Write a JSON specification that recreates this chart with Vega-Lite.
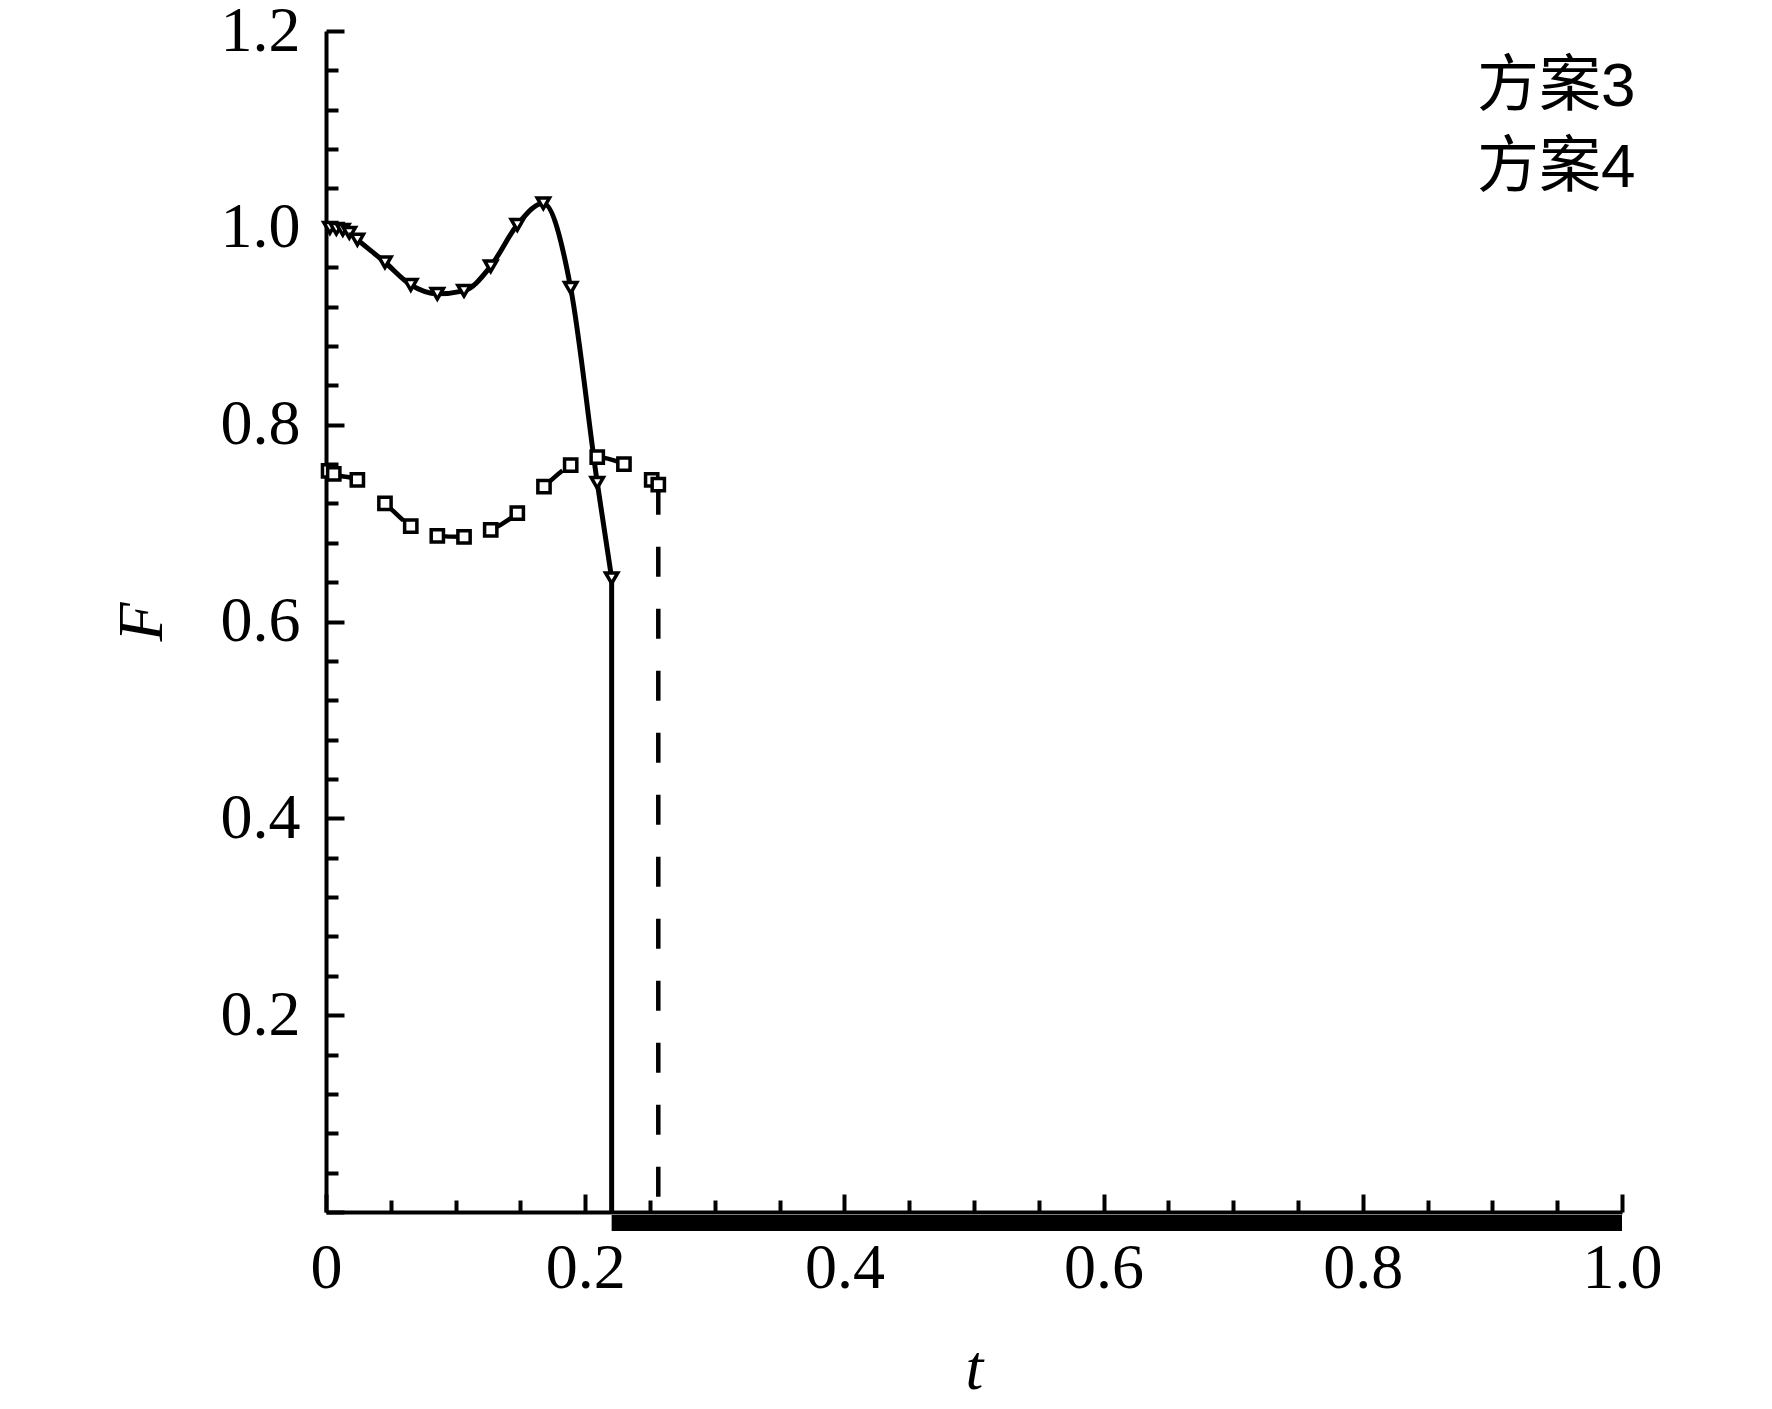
{
  "$schema": "https://vega.github.io/schema/vega-lite/v6.json",
  "autosize": {"type": "none"},
  "padding": {"left": 326, "top": 31, "right": 150, "bottom": 197},
  "width": 1296,
  "height": 1181,
  "background": "white",
  "datasets": {
    "points": [
      {"series": "方案3", "t": 0.003, "F": 1.0},
      {"series": "方案3", "t": 0.008, "F": 0.999},
      {"series": "方案3", "t": 0.013, "F": 0.998},
      {"series": "方案3", "t": 0.018, "F": 0.995},
      {"series": "方案3", "t": 0.0242, "F": 0.988},
      {"series": "方案3", "t": 0.0455, "F": 0.965},
      {"series": "方案3", "t": 0.0654, "F": 0.942},
      {"series": "方案3", "t": 0.0859, "F": 0.933},
      {"series": "方案3", "t": 0.1065, "F": 0.936},
      {"series": "方案3", "t": 0.1271, "F": 0.961},
      {"series": "方案3", "t": 0.1476, "F": 1.003},
      {"series": "方案3", "t": 0.1677, "F": 1.025},
      {"series": "方案3", "t": 0.1888, "F": 0.939},
      {"series": "方案3", "t": 0.2093, "F": 0.741},
      {"series": "方案3", "t": 0.2204, "F": 0.644},
      {"series": "方案4", "t": 0.002, "F": 0.753},
      {"series": "方案4", "t": 0.006, "F": 0.75},
      {"series": "方案4", "t": 0.0242, "F": 0.744},
      {"series": "方案4", "t": 0.0455, "F": 0.72},
      {"series": "方案4", "t": 0.0654, "F": 0.697},
      {"series": "方案4", "t": 0.0859, "F": 0.687},
      {"series": "方案4", "t": 0.1065, "F": 0.686},
      {"series": "方案4", "t": 0.1271, "F": 0.693},
      {"series": "方案4", "t": 0.1476, "F": 0.71},
      {"series": "方案4", "t": 0.1682, "F": 0.737},
      {"series": "方案4", "t": 0.1888, "F": 0.759},
      {"series": "方案4", "t": 0.2093, "F": 0.767},
      {"series": "方案4", "t": 0.2299, "F": 0.76},
      {"series": "方案4", "t": 0.2513, "F": 0.744},
      {"series": "方案4", "t": 0.2564, "F": 0.739}
    ],
    "drops": [
      {"series": "方案3", "part": "drop", "t": 0.2204, "F": 0.644},
      {"series": "方案3", "part": "drop", "t": 0.2204, "F": 0},
      {"series": "方案3", "part": "tail", "t": 0.2204, "F": 0},
      {"series": "方案3", "part": "tail", "t": 1.0, "F": 0},
      {"series": "方案4", "part": "drop", "t": 0.2564, "F": 0.739},
      {"series": "方案4", "part": "drop", "t": 0.2564, "F": 0}
    ]
  },
  "encoding": {
    "x": {
      "field": "t",
      "type": "quantitative",
      "scale": {"domain": [0, 1], "nice": false, "zero": false},
      "axis": {
        "title": "t",
        "values": [0, 0.05, 0.1, 0.15, 0.2, 0.25, 0.3, 0.35, 0.4, 0.45, 0.5, 0.55, 0.6, 0.65, 0.7, 0.75, 0.8, 0.85, 0.9, 0.95, 1.0],
        "labelExpr": "abs(datum.value * 5 - round(datum.value * 5)) < 1e-6 ? (datum.value == 0 ? '0' : format(datum.value, '.1f')) : ''",
        "tickSize": {"condition": {"test": "abs(datum.value * 5 - round(datum.value * 5)) < 1e-6", "value": -18}, "value": -12},
        "labelPadding": 42,
        "titlePadding": 31,
        "labelFlush": false,
        "labelOverlap": false
      }
    },
    "y": {
      "field": "F",
      "type": "quantitative",
      "scale": {"domain": [0, 1.2], "nice": false, "zero": false},
      "axis": {
        "title": "F",
        "values": [0, 0.04, 0.08, 0.12, 0.16, 0.2, 0.24, 0.28, 0.32, 0.36, 0.4, 0.44, 0.48, 0.52, 0.56, 0.6, 0.64, 0.68, 0.72, 0.76, 0.8, 0.84, 0.88, 0.92, 0.96, 1.0, 1.04, 1.08, 1.12, 1.16, 1.2],
        "labelExpr": "abs(datum.value * 5 - round(datum.value * 5)) < 1e-6 && datum.value > 0 ? format(datum.value, '.1f') : ''",
        "tickSize": {"condition": {"test": "abs(datum.value * 5 - round(datum.value * 5)) < 1e-6", "value": -18}, "value": -12},
        "labelPadding": 44,
        "titlePadding": 46,
        "labelFlush": false,
        "labelOverlap": false
      }
    }
  },
  "layer": [
    {
      "data": {"name": "points"},
      "transform": [{"filter": "datum.series == '方案3'"}],
      "mark": {"type": "line", "interpolate": "monotone", "color": "black", "strokeWidth": 5},
      "encoding": {}
    },
    {
      "data": {"name": "points"},
      "transform": [{"filter": "datum.series == '方案4'"}],
      "mark": {"type": "line", "interpolate": "monotone", "color": "black", "strokeWidth": 4.5, "strokeDash": [30, 32]},
      "encoding": {}
    },
    {
      "data": {"name": "drops"},
      "transform": [{"filter": "datum.part == 'drop' && datum.series == '方案3'"}],
      "mark": {"type": "line", "color": "black", "strokeWidth": 5},
      "encoding": {}
    },
    {
      "data": {"name": "drops"},
      "transform": [{"filter": "datum.part == 'drop' && datum.series == '方案4'"}],
      "mark": {"type": "line", "color": "black", "strokeWidth": 4.5, "strokeDash": [30, 32]},
      "encoding": {}
    },
    {
      "data": {"name": "drops"},
      "transform": [{"filter": "datum.part == 'tail'"}],
      "mark": {"type": "line", "color": "black", "strokeWidth": 16, "strokeCap": "butt", "yOffset": 11},
      "encoding": {}
    },
    {
      "data": {"name": "points"},
      "transform": [{"filter": "datum.series == '方案3'"}],
      "mark": {"type": "point", "shape": "triangle-down", "filled": true, "fill": "white", "stroke": "black", "strokeWidth": 3.5, "size": 150, "opacity": 1},
      "encoding": {}
    },
    {
      "data": {"name": "points"},
      "transform": [{"filter": "datum.series == '方案4'"}],
      "mark": {"type": "point", "shape": "square", "filled": true, "fill": "white", "stroke": "black", "strokeWidth": 3.5, "size": 150, "opacity": 1},
      "encoding": {}
    },
    {
      "data": {"name": "points"},
      "transform": [{"filter": "false"}],
      "mark": {"type": "point", "filled": true, "fill": "white", "stroke": "black", "strokeWidth": 4, "opacity": 1},
      "encoding": {
        "shape": {
          "field": "series",
          "type": "nominal",
          "scale": {
            "domain": ["方案3", "方案4"],
            "range": [
              "M-7.96,0L-0.75,0M0.75,0L7.96,0M-0.7,-0.45L0.7,-0.45L0,0.85Z",
              "M-7.96,0L-5.65,0M-3.27,0L-0.6,0M0.6,0L3.88,0M6.27,0L7.96,0M-0.45,-0.45L0.45,-0.45L0.45,0.45L-0.45,0.45Z"
            ]
          },
          "legend": {
            "title": null,
            "orient": "none",
            "legendX": 999,
            "legendY": 25,
            "padding": 0,
            "symbolSize": 676,
            "symbolStrokeWidth": 4,
            "symbolFillColor": "white",
            "symbolStrokeColor": "black",
            "rowPadding": 19,
            "labelOffset": 90,
            "labelFont": "Liberation Sans, Noto Sans CJK SC",
            "labelFontSize": 62,
            "labelColor": "black",
            "encode": {
              "symbols": {
                "fill": {"value": "white"},
                "stroke": {"value": "black"},
                "strokeWidth": {"value": 4},
                "opacity": {"value": 1}
              }
            }
          }
        }
      }
    }
  ],
  "config": {
    "view": {"stroke": null},
    "axis": {
      "grid": false,
      "domainColor": "black",
      "domainWidth": 4,
      "tickColor": "black",
      "tickWidth": 4,
      "labelFont": "Liberation Serif",
      "labelFontSize": 64,
      "labelColor": "black",
      "titleFont": "Liberation Serif",
      "titleFontSize": 64,
      "titleFontStyle": "italic",
      "titleFontWeight": "normal",
      "titleColor": "black"
    }
  }
}
